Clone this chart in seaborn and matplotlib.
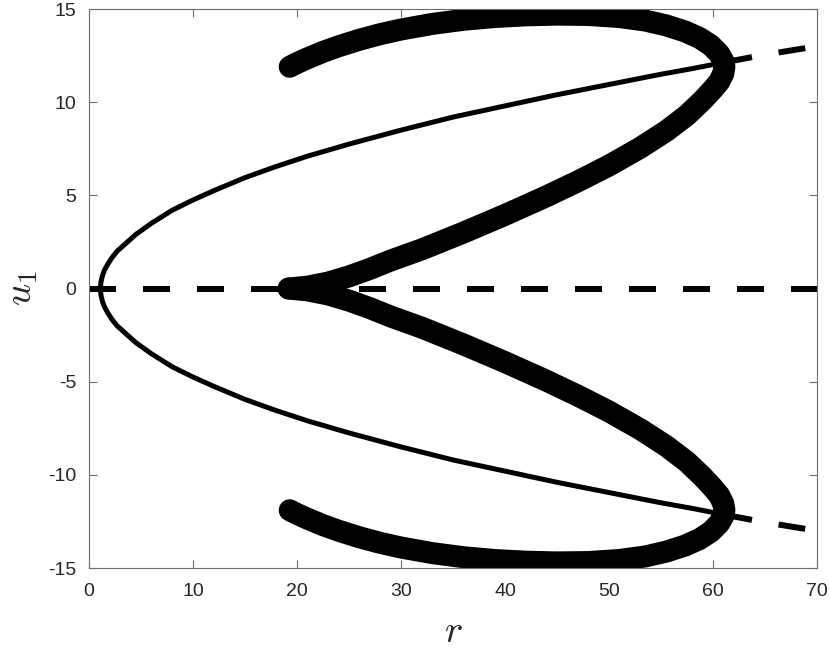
# Bifurcation diagram: u1 against r
import matplotlib
matplotlib.use("Agg")
import matplotlib.pyplot as plt
import seaborn as sns
import numpy as np

# Data (upper half; lower half is the mirror image)
# thin branch of steady states, solid part
steady_r = [1.1, 1.15, 1.3, 1.5, 1.8, 2.2, 2.7, 3.5, 4.5, 6.0, 8.0, 10.0, 12.0,
            15.0, 18.0, 21.0, 25.0, 30.0, 35.0, 40.0, 45.0, 50.0, 55.0, 58.0, 61.2]
steady_u = [0.0, 0.35, 0.7, 1.0, 1.3, 1.65, 2.0, 2.4, 2.9, 3.5, 4.2, 4.75, 5.25,
            5.95, 6.55, 7.1, 7.75, 8.5, 9.2, 9.8, 10.4, 10.95, 11.5, 11.8, 12.15]
# thin branch, dashed continuation
unstable_r = [61.2, 65.0, 70.0]
unstable_u = [12.15, 12.55, 13.0]
# trivial branch u1 = 0
zero_r = [0.0, 70.0]
zero_u = [0.0, 0.0]
# thick branch (upper lobe), from the free end round the fold back to the cusp
loop_r = [19.3, 20.0, 21.0, 22.5, 24.0, 26.0, 28.0, 30.0, 33.0, 36.0, 39.0, 42.0,
          45.0, 48.0, 51.0, 53.5, 55.5, 57.3, 58.7, 59.8, 60.6, 61.0, 61.1, 61.0,
          60.6, 60.0, 59.0, 57.5, 55.5, 53.0, 50.0, 47.0, 43.8, 40.0, 36.0, 32.0,
          29.0, 27.0, 25.0, 23.0, 21.0, 19.2]
loop_u = [11.9, 12.1, 12.35, 12.7, 13.0, 13.35, 13.65, 13.9, 14.2, 14.42, 14.57, 14.66,
          14.7, 14.68, 14.57, 14.38, 14.12, 13.8, 13.45, 13.05, 12.6, 12.2, 11.9, 11.55,
          11.1, 10.7, 10.1, 9.3, 8.45, 7.55, 6.6, 5.75, 4.9, 3.95, 3.0, 2.1,
          1.5, 1.05, 0.65, 0.32, 0.1, 0.0]

sns.set_style("ticks")
plt.rcParams["mathtext.fontset"] = "cm"
plt.rcParams["axes.unicode_minus"] = False
plt.rcParams["font.family"] = ["Liberation Sans", "DejaVu Sans"]

fig, ax = plt.subplots(figsize=(8.3, 6.49), dpi=100)
fig.subplots_adjust(left=0.1072, right=0.9843, top=0.9861, bottom=0.1248)

px = 72 / 100  # points per pixel

# thick branch, both lobes
for sgn in (1, -1):
    sns.lineplot(x=loop_r, y=[sgn * v for v in loop_u], sort=False, estimator=None,
                 color="black", lw=22 * px, solid_capstyle="round",
                 solid_joinstyle="round", ax=ax)

# thin solid branch plus its dashed continuation
for sgn in (1, -1):
    sns.lineplot(x=steady_r, y=[sgn * v for v in steady_u],
                 sort=False, estimator=None, color="black", lw=5 * px,
                 solid_capstyle="butt", solid_joinstyle="round", ax=ax)
    sns.lineplot(x=unstable_r, y=[sgn * v for v in unstable_u], sort=False,
                 estimator=None, color="black", lw=6 * px,
                 linestyle=(0, (4.5, 4.5)), dash_capstyle="butt", ax=ax)

# dashed zero line
sns.lineplot(x=zero_r, y=zero_u, sort=False, estimator=None, color="black",
             lw=6 * px, linestyle=(0, (4.5, 4.5)), dash_capstyle="butt", ax=ax)

ax.set_xlim(0, 70)
ax.set_ylim(-15, 15)
ax.set_xticks(np.arange(0, 71, 10))
ax.set_yticks(np.arange(-15, 16, 5))
ax.tick_params(direction="in", top=True, right=True, length=6, width=0.8,
               color="#6e6e6e", labelsize=14, labelcolor="#262626")
ax.tick_params(axis="y", pad=9)
ax.tick_params(axis="x", pad=11)
for s in ax.spines.values():
    s.set_visible(True)
    s.set_color("#6e6e6e")
    s.set_linewidth(0.8)

ax.set_xlabel(r"$r$", fontsize=28, labelpad=10)
ax.set_ylabel(r"$u_1$", fontsize=28, labelpad=6)

fig.savefig("out.png", dpi=100)
